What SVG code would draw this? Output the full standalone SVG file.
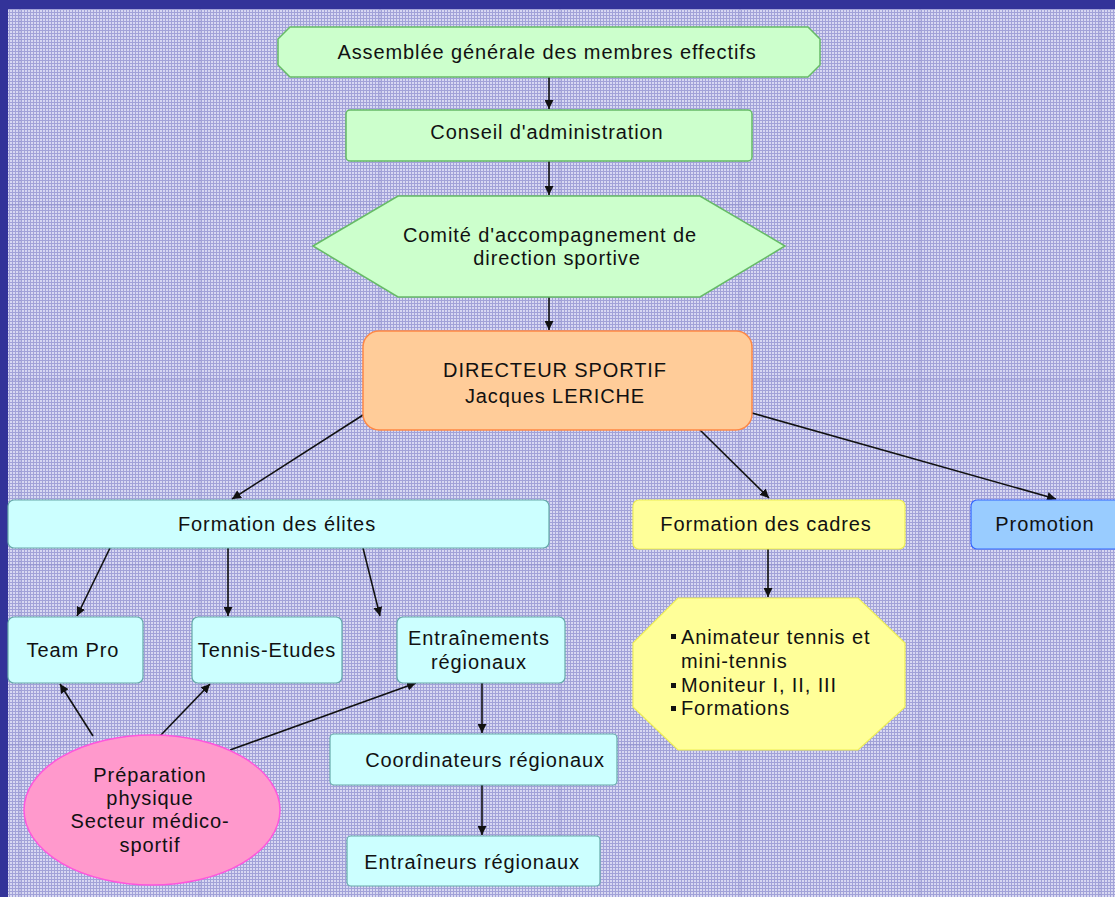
<svg xmlns="http://www.w3.org/2000/svg" width="1115" height="897" viewBox="0 0 1115 897">
<defs>
<pattern id="grid" width="3" height="3" patternUnits="userSpaceOnUse">
<rect width="3" height="3" fill="#d8d8f2"/>
<rect width="3" height="1" fill="#a2a2d8"/>
<rect width="1" height="3" fill="#a2a2d8"/>
</pattern>
<marker id="arr" viewBox="0 0 10 10" refX="10" refY="5" markerWidth="9" markerHeight="9" markerUnits="userSpaceOnUse" orient="auto">
<path d="M0,0 L10,5 L0,10 z" fill="#111"/>
</marker>
</defs>
<style>
text{font-family:"Liberation Sans",Arial,sans-serif;font-size:20px;letter-spacing:0.9px;fill:#111;text-anchor:middle;dominant-baseline:central}
.green{fill:#ccffcc;stroke:#66bb66;stroke-width:1.5}
.cyan{fill:#ccffff;stroke:#66aaaa;stroke-width:1.2}
.conn line{stroke:#111;stroke-width:1.6;marker-end:url(#arr)}
</style>
<rect width="1115" height="897" fill="url(#grid)"/>
<g opacity="0.18" stroke="#7070b8" stroke-width="2">
<line x1="20" y1="9" x2="20" y2="897"/><line x1="200" y1="9" x2="200" y2="897"/><line x1="380" y1="9" x2="380" y2="897"/><line x1="560" y1="9" x2="560" y2="897"/><line x1="740" y1="9" x2="740" y2="897"/><line x1="920" y1="9" x2="920" y2="897"/><line x1="1100" y1="9" x2="1100" y2="897"/>
<line x1="8" y1="205" x2="1115" y2="205"/><line x1="8" y1="380" x2="1115" y2="380"/><line x1="8" y1="565" x2="1115" y2="565"/><line x1="8" y1="745" x2="1115" y2="745"/>
</g>
<rect x="0" y="0" width="1115" height="9" fill="#333399"/>
<rect x="0" y="0" width="8" height="897" fill="#333399"/>

<g id="connectors" class="conn">
<line x1="549" y1="77" x2="549" y2="109"/>
<line x1="549" y1="161" x2="549" y2="195"/>
<line x1="549" y1="297" x2="549" y2="330"/>
<line x1="363" y1="415" x2="232" y2="499"/>
<line x1="700" y1="430" x2="769" y2="498"/>
<line x1="752" y1="413" x2="1056" y2="499"/>
<line x1="110" y1="548" x2="77" y2="616"/>
<line x1="228" y1="548" x2="228" y2="616"/>
<line x1="363" y1="548" x2="380" y2="616"/>
<line x1="482" y1="683" x2="482" y2="733"/>
<line x1="482" y1="785" x2="482" y2="835"/>
<line x1="768" y1="549" x2="768" y2="597"/>
<line x1="93" y1="736" x2="60" y2="684"/>
<line x1="160" y1="736" x2="210" y2="684"/>
<line x1="230" y1="750" x2="416" y2="683"/>
</g>

<g id="assemblee">
<polygon class="green" points="290,27 808,27 820,39 820,65 808,77 290,77 278,65 278,39"/>
<text x="547" y="52">Assemblée générale des membres effectifs</text>
</g>
<g id="conseil">
<rect class="green" x="346" y="110" width="406" height="51" rx="4"/>
<text x="547" y="132">Conseil d'administration</text>
</g>
<g id="comite">
<polygon class="green" points="313,246 398,196 700,196 785,246 700,297 398,297"/>
<text x="550" y="235">Comité d'accompagnement de</text>
<text x="557" y="258">direction sportive</text>
</g>
<g id="directeur">
<rect x="363" y="331" width="389" height="99" rx="16" fill="#ffcc99" stroke="#ff8844" stroke-width="1.5"/>
<text x="555" y="370">DIRECTEUR SPORTIF</text>
<text x="555" y="396">Jacques LERICHE</text>
</g>
<g id="elites">
<rect class="cyan" x="8" y="500" width="541" height="48" rx="6"/>
<text x="277" y="524">Formation des élites</text>
</g>
<g id="cadres">
<rect x="633" y="500" width="272" height="49" rx="6" fill="#ffff99" stroke="#eeee55" stroke-width="1.2"/>
<text x="766" y="524">Formation des cadres</text>
</g>
<g id="promotion">
<rect x="971" y="500" width="160" height="49" rx="6" fill="#99ccff" stroke="#3366ff" stroke-width="1.2"/>
<text x="1045" y="524">Promotion</text>
</g>
<g id="teampro">
<rect class="cyan" x="8" y="617" width="135" height="66" rx="6"/>
<text x="73" y="650">Team Pro</text>
</g>
<g id="tennisetudes">
<rect class="cyan" x="192" y="617" width="150" height="66" rx="6"/>
<text x="267" y="650">Tennis-Etudes</text>
</g>
<g id="entrainements">
<rect class="cyan" x="397" y="617" width="168" height="66" rx="6"/>
<text x="479" y="638">Entraînements</text>
<text x="479" y="662">régionaux</text>
</g>
<g id="coordinateurs">
<rect class="cyan" x="330" y="734" width="287" height="51" rx="4"/>
<text x="485" y="760">Coordinateurs régionaux</text>
</g>
<g id="entraineurs">
<rect class="cyan" x="347" y="836" width="253" height="50" rx="4"/>
<text x="472" y="862">Entraîneurs régionaux</text>
</g>
<g id="preparation">
<ellipse cx="152" cy="810" rx="128" ry="75" fill="#ff99cc" stroke="#ff55dd" stroke-width="1.5"/>
<text x="150" y="775">Préparation</text>
<text x="150" y="798">physique</text>
<text x="150" y="821">Secteur médico-</text>
<text x="150" y="845">sportif</text>
</g>
<g id="formations-list">
<polygon points="678,598 858,598 905,643 905,707 858,750 678,750 633,707 633,643" fill="#ffff99" stroke="#eeee55" stroke-width="1.2"/>
<rect x="671" y="634" width="5" height="5" fill="#111"/>
<rect x="671" y="683" width="5" height="5" fill="#111"/>
<rect x="671" y="706" width="5" height="5" fill="#111"/>
<text x="681" y="637" style="text-anchor:start">Animateur tennis et</text>
<text x="681" y="661" style="text-anchor:start">mini-tennis</text>
<text x="681" y="685" style="text-anchor:start">Moniteur I, II, III</text>
<text x="681" y="708" style="text-anchor:start">Formations</text>
</g>
</svg>
